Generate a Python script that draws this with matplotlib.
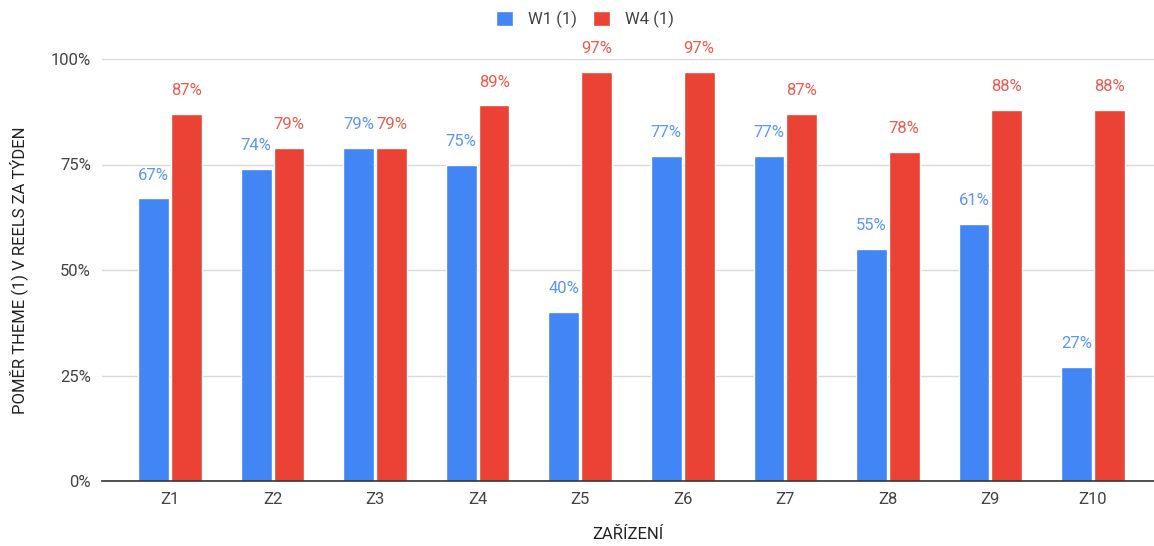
import numpy as np
import matplotlib
matplotlib.use('Agg')
from matplotlib import pyplot as plt
from matplotlib.ticker import FuncFormatter

plt.rcParams['font.family'] = ['Roboto', 'DejaVu Sans']

categories = ['Z1', 'Z2', 'Z3', 'Z4', 'Z5', 'Z6', 'Z7', 'Z8', 'Z9', 'Z10']
w1 = [67, 74, 79, 75, 40, 77, 77, 55, 61, 27]
w4 = [87, 79, 79, 89, 97, 97, 87, 78, 88, 88]
series_names = ['W1 (1)', 'W4 (1)']

blue = '#4285F4'
red = '#EA4335'
text_gray = '#444444'

fig = plt.figure(figsize=(11.54, 5.46), dpi=100)
# axes from x=102px to right edge, y from 59px (100%) to 481px (0%)
ax = fig.add_axes([102 / 1154, 1 - 481 / 546, 1 - 102 / 1154, 422 / 546])

x = np.arange(len(categories))
bw = 0.3
off = 0.16
b1 = ax.bar(x - off, w1, bw, color=blue, edgecolor='white', linewidth=1, label=series_names[0], zorder=3)
b2 = ax.bar(x + off, w4, bw, color=red, edgecolor='white', linewidth=1, label=series_names[1], zorder=3)

for bars, vals, col in [(b1, w1, '#5B96F5'), (b2, w4, '#EE5B4E')]:
    for rect, v in zip(bars, vals):
        ax.annotate(f'{v}%', (rect.get_x() + rect.get_width() / 2, v),
                    xytext=(0, 13.5), textcoords='offset points',
                    ha='center', va='baseline', color=col, fontsize=12)

ax.set_xlim(-0.663, 9.595)
ax.set_ylim(0, 100)
ax.set_yticks([0, 25, 50, 75, 100])
ax.yaxis.set_major_formatter(FuncFormatter(lambda v, p: f'{int(v)}%'))
ax.set_xticks(x)
ax.set_xticklabels(categories)
ax.tick_params(axis='both', length=0, labelsize=12, labelcolor=text_gray, pad=8)
ax.grid(axis='y', color='#D9D9D9', linewidth=1, zorder=0)
for s in ['top', 'right', 'left']:
    ax.spines[s].set_visible(False)
ax.spines['bottom'].set_color('#333333')
ax.spines['bottom'].set_linewidth(1.2)
ax.spines['bottom'].set_zorder(4)

ax.set_ylabel('POMĚR THEME (1) V REELS ZA TÝDEN', fontsize=12, color='#222222', labelpad=16)
ax.set_xlabel('ZAŘÍZENÍ', fontsize=12, color='#222222', labelpad=14)

fig.legend(handles=[b1, b2], loc='center', bbox_to_anchor=(0.507, 0.965), ncol=2,
           frameon=False, fontsize=12, labelcolor=text_gray, handlelength=1.0,
           handleheight=1.0, columnspacing=1.0, handletextpad=0.9)

fig.savefig('out.png', dpi=100)
